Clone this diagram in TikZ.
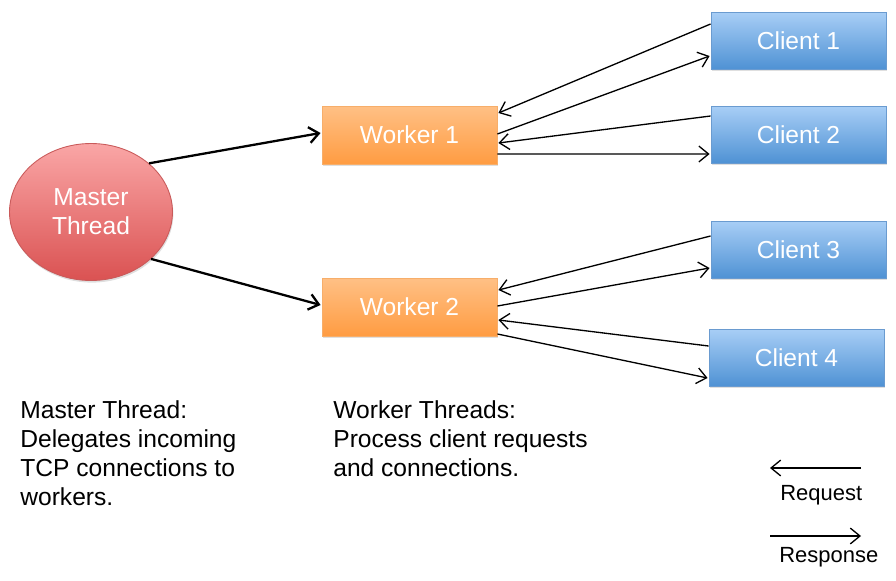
\documentclass[tikz,border=0pt]{standalone}
\usepackage{fontspec}
\setmainfont{Liberation Sans}
\usepackage{tikz}
\usetikzlibrary{calc, arrows, positioning}
\usetikzlibrary{arrows.meta}
\usetikzlibrary{shapes.geometric, shadows}

\definecolor{clientTop}{HTML}{A8CEF6}
\definecolor{clientBot}{HTML}{4F92D4}
\definecolor{clientLine}{HTML}{6A9BD0}
\definecolor{workerTop}{HTML}{FFC085}
\definecolor{workerBot}{HTML}{FF9C42}
\definecolor{workerLine}{HTML}{F7AE6A}
\definecolor{masterTop}{HTML}{FAA6A6}
\definecolor{masterBot}{HTML}{DA5252}
\definecolor{masterLine}{HTML}{C95A5A}

\tikzset{
  boxFont/.style={font=\fontsize{14}{16.5}\selectfont},
  softShadow/.style={drop shadow={shadow xshift=0.5pt, shadow yshift=-1.2pt, opacity=0.25}},
  clientBox/.style={rectangle, draw=clientLine, line width=0.5pt, top color=clientTop, bottom color=clientBot,
    minimum width=3.5cm, minimum height=1.14cm, inner sep=0pt, text=white, boxFont, softShadow},
  workerBox/.style={rectangle, draw=workerLine, line width=0.5pt, top color=workerTop, bottom color=workerBot,
    minimum width=3.5cm, minimum height=1.16cm, inner sep=0pt, text=white, boxFont, softShadow},
  masterBlob/.style={ellipse, draw=masterLine, line width=0.5pt, top color=masterTop, bottom color=masterBot,
    minimum width=3.26cm, minimum height=2.74cm, inner sep=0pt, text=white, align=center, boxFont, softShadow},
  noteText/.style={align=left, inner sep=0pt, anchor=north west, boxFont},
  legendText/.style={inner sep=0pt, anchor=base west, font=\fontsize{12.5}{15}\selectfont},
  thinArrow/.style={->, line width=0.75pt},
  thickArrow/.style={->, line width=1.3pt}
}

\begin{document}
\begin{tikzpicture}[x=0.02cm, y=-0.02cm, >={Straight Barb[length=5.5pt, width=9pt]}]
\useasboundingbox (0,0) rectangle (896,581);

% threads
\node[masterBlob] (master) at (91,212) {Master\\Thread};
\node[workerBox] (w1) at (409.5,135) {Worker 1};
\node[workerBox] (w2) at (409.5,307) {Worker 2};

% clients
\node[clientBox] (c1) at (798.5,40.5) {Client 1};
\node[clientBox] (c2) at (798.5,134.5) {Client 2};
\node[clientBox] (c3) at (798.5,249.5) {Client 3};
\node[clientBox] (c4) at (796.5,357.5) {Client 4};

\draw[thickArrow] (master.40) -- ($(w1.west)+(-1,-2)$);
\draw[thickArrow] (master.-38) -- ($(w2.west)+(-1,-2)$);

% request / response pairs
\foreach \cName/\wName/\cIn/\wIn/\wOut/\cOut in {c1/w1/-16.5/-22/-1/15.5, c2/w1/-18.5/8/19/19.5, c3/w2/-13.5/-17/-1/18.5, c4/w2/-11.5/13/27/20.5}
{
    \draw[thinArrow] ($(\cName.west)+(0,\cIn)$) -- ($(\wName.east)+(1,\wIn)$);
    \draw[thinArrow] ($(\wName.east)+(0,\wOut)$) -- ($(\cName.west)+(-1,\cOut)$);
}

% notes
\node[noteText] (masterNote) at (20,400) {Master Thread:\\Delegates incoming\\TCP connections to\\workers.};
\node[noteText] (workerNote) at (333,400) {Worker Threads:\\Process client requests\\and connections.};

% legend
\coordinate (reqA) at (861,468);
\coordinate (reqB) at (770,468);
\coordinate (resA) at (770,536);
\coordinate (resB) at (861,536);
\draw[thinArrow] (reqA) -- (reqB);
\draw[thinArrow] (resA) -- (resB);
\node[legendText] (reqLabel) at (780,500) {Request};
\node[legendText] (resLabel) at (779,562) {Response};

\end{tikzpicture}
\end{document}
